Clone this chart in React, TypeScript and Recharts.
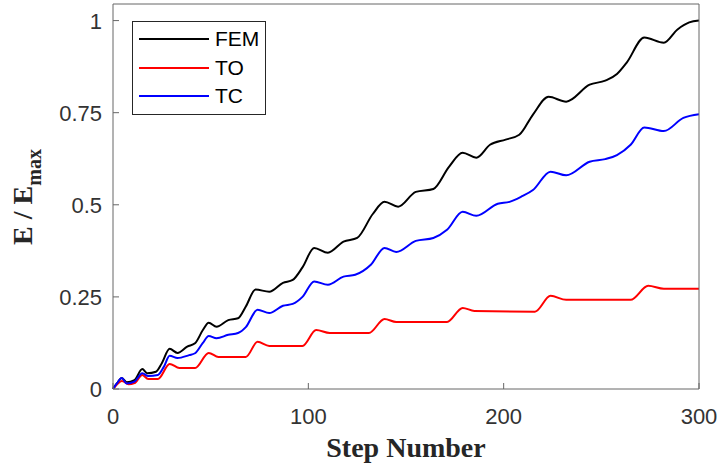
import { LineChart, Line, XAxis, YAxis, Legend } from 'recharts'

// step positions and energy ratios
const femSteps = [0, 2, 4.5, 7, 11, 15, 17.5, 22, 25, 29, 33, 38, 42, 46, 49, 53, 59, 64, 68, 73, 80, 87, 92, 97, 103, 110, 118, 125, 133, 139, 146, 155, 164, 172, 179, 186, 193, 201, 208, 215, 223, 232, 244, 252, 258, 263, 272, 282, 289, 295, 300]
const femValues = [0, 0.015, 0.03, 0.018, 0.024, 0.054, 0.043, 0.047, 0.07, 0.109, 0.098, 0.115, 0.124, 0.16, 0.18, 0.169, 0.187, 0.192, 0.224, 0.27, 0.264, 0.288, 0.296, 0.33, 0.383, 0.37, 0.4, 0.41, 0.475, 0.508, 0.495, 0.535, 0.543, 0.603, 0.641, 0.628, 0.663, 0.677, 0.69, 0.745, 0.793, 0.78, 0.826, 0.837, 0.855, 0.886, 0.954, 0.94, 0.976, 0.995, 1.0]

const toSteps = [0, 2, 4.5, 8, 11, 15, 18, 23, 29, 34, 42, 49, 54, 68, 74, 80, 97, 104, 111, 131, 139, 145, 171, 179, 185, 216, 224, 232, 265, 274, 282, 300]
const toValues = [0, 0.012, 0.022, 0.013, 0.016, 0.038, 0.027, 0.027, 0.068, 0.057, 0.057, 0.098, 0.087, 0.087, 0.128, 0.117, 0.117, 0.16, 0.152, 0.152, 0.19, 0.182, 0.182, 0.22, 0.212, 0.21, 0.253, 0.242, 0.242, 0.28, 0.272, 0.272]

const tcSteps = [0, 2, 4.5, 7, 11, 15, 18, 23, 26, 29, 33, 39, 42, 46, 49, 53, 59, 64, 68, 74, 80, 87, 92, 97, 103, 110, 118, 124, 132, 139, 145, 155, 164, 171, 179, 186, 197, 203, 209, 215, 224, 232, 244, 252, 258, 265, 272, 282, 292, 300]
const tcValues = [0, 0.015, 0.03, 0.015, 0.02, 0.043, 0.035, 0.038, 0.06, 0.09, 0.084, 0.092, 0.097, 0.125, 0.144, 0.138, 0.147, 0.152, 0.168, 0.215, 0.206, 0.226, 0.231, 0.25, 0.292, 0.283, 0.305, 0.31, 0.337, 0.383, 0.372, 0.402, 0.41, 0.432, 0.481, 0.47, 0.503, 0.508, 0.522, 0.54, 0.59, 0.58, 0.617, 0.624, 0.635, 0.663, 0.71, 0.7, 0.736, 0.746]

const seriesNames = ['FEM', 'TO', 'TC']
const xTicks = [0, 100, 200, 300]
const yTicks = [0, 0.25, 0.5, 0.75, 1]
const yTickLabels = ['0', '0.25', '0.5', '0.75', '1']

const toPoints = (steps: number[], values: number[]) =>
  steps.map((step, i) => ({ step, v: values[i] }))

const femData = toPoints(femSteps, femValues)
const toData = toPoints(toSteps, toValues)
const tcData = toPoints(tcSteps, tcValues)

const axisColor = '#666'
const sansFont = '"Liberation Sans", Arial, sans-serif'
const serifFont = '"Liberation Serif", "Times New Roman", serif'

// matlab style ticks: short marks pointing into the box
function BottomTick({ x, y, payload }: any) {
  return (
    <g>
      <line x1={x} x2={x} y1={y} y2={y - 6} stroke={axisColor} />
      <text x={x} y={y + 35} textAnchor="middle" fontFamily={sansFont} fontSize={22} fill="#333">
        {payload.value}
      </text>
    </g>
  )
}

function LeftTick({ x, y, payload }: any) {
  const label = yTickLabels[yTicks.indexOf(payload.value)] ?? String(payload.value)
  return (
    <g>
      <line x1={x} x2={x + 6} y1={y} y2={y} stroke={axisColor} />
      <text x={x - 11} y={y + 8} textAnchor="end" fontFamily={sansFont} fontSize={22} fill="#333">
        {label}
      </text>
    </g>
  )
}

function TopTick({ x, y }: any) {
  return <line x1={x} x2={x} y1={y} y2={y + 6} stroke={axisColor} />
}

function RightTick({ x, y }: any) {
  return <line x1={x} x2={x - 6} y1={y} y2={y} stroke={axisColor} />
}

function YLabel() {
  return (
    <text
      transform="translate(32, 197) rotate(-90)"
      textAnchor="middle"
      fontFamily={serifFont}
      fontWeight="bold"
      fill="#262626"
    >
      <tspan fontSize={28}>E / E</tspan>
      <tspan fontSize={20} dy={9}>max</tspan>
    </text>
  )
}

function LegendBox({ payload }: any) {
  // keep the plotting order, recharts sorts legend items by name
  const items = [...(payload || [])].sort(
    (a: any, b: any) => seriesNames.indexOf(a.value) - seriesNames.indexOf(b.value)
  )
  return (
    <div
      style={{
        width: 132,
        height: 89,
        border: '1px solid #262626',
        background: '#fff',
        boxSizing: 'content-box',
        paddingTop: 3,
      }}
    >
      {items.map((item: any) => (
        <div key={item.value} style={{ display: 'flex', alignItems: 'center', height: 28.5 }}>
          <span style={{ marginLeft: 6, width: 70, height: 2, background: item.color }} />
          <span style={{ marginLeft: 6, fontFamily: sansFont, fontSize: 21, color: '#000' }}>
            {item.value}
          </span>
        </div>
      ))}
    </div>
  )
}

export default function App() {
  return (
    <div style={{ width: 717, height: 466, background: '#fff' }}>
      <style>{'body{margin:0}'}</style>
      <LineChart width={717} height={466} margin={{ top: 3, right: 17, bottom: 47, left: 53 }}>
        <XAxis
          dataKey="step"
          type="number"
          domain={[0, 300]}
          ticks={xTicks}
          height={30}
          stroke={axisColor}
          tickSize={0}
          tickMargin={0}
          tickLine={false}
          tick={<BottomTick />}
          label={{
            value: 'Step Number',
            position: 'insideBottom',
            offset: -38,
            style: { fontFamily: serifFont, fontWeight: 'bold', fontSize: 28, fill: '#262626' },
          }}
        />
        <XAxis
          xAxisId="top"
          orientation="top"
          type="number"
          domain={[0, 300]}
          ticks={xTicks}
          height={1}
          stroke={axisColor}
          tickSize={0}
          tickMargin={0}
          tickLine={false}
          tick={<TopTick />}
        />
        <YAxis
          type="number"
          domain={[0, 1.045]}
          ticks={yTicks}
          width={60}
          stroke={axisColor}
          tickSize={0}
          tickMargin={0}
          tickLine={false}
          tick={<LeftTick />}
          allowDataOverflow
          label={{ content: () => <YLabel /> }}
        />
        <YAxis
          yAxisId="right"
          orientation="right"
          type="number"
          domain={[0, 1.045]}
          ticks={yTicks}
          width={1}
          stroke={axisColor}
          tickSize={0}
          tickMargin={0}
          tickLine={false}
          tick={<RightTick />}
        />
        <Legend
          layout="vertical"
          align="center"
          verticalAlign="middle"
          wrapperStyle={{ left: 132, top: 21, width: 134, height: 93 }}
          content={<LegendBox />}
        />
        <Line data={femData} dataKey="v" name="FEM" type="monotone" stroke="#000000" strokeWidth={2} dot={false} isAnimationActive={false} />
        <Line data={toData} dataKey="v" name="TO" type="monotone" stroke="#ff0000" strokeWidth={2} dot={false} isAnimationActive={false} />
        <Line data={tcData} dataKey="v" name="TC" type="monotone" stroke="#0000ff" strokeWidth={2} dot={false} isAnimationActive={false} />
      </LineChart>
    </div>
  )
}
